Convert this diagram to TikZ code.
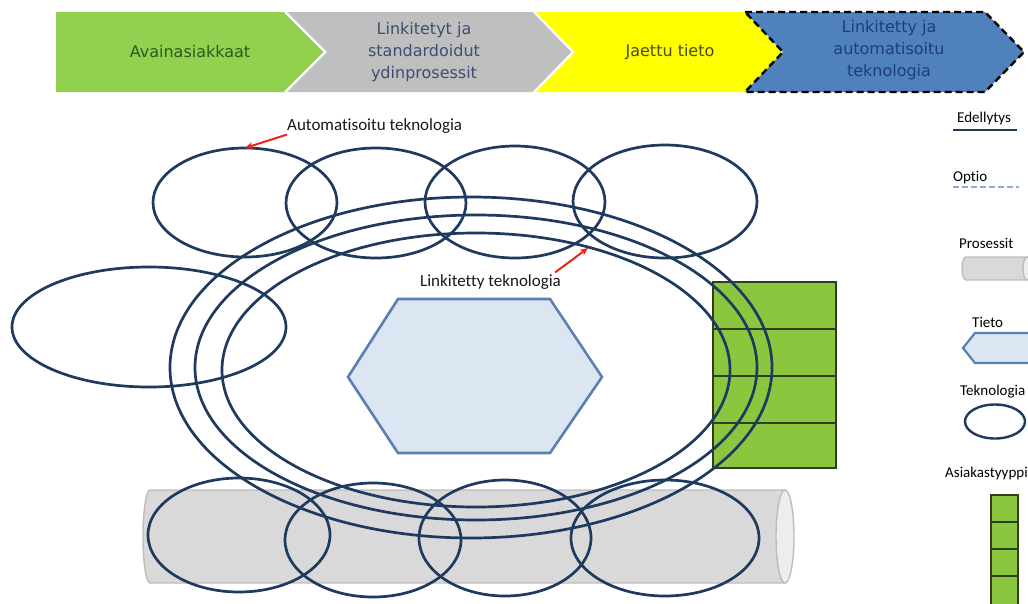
\documentclass[tikz,border=0pt]{standalone}
\usepackage{fontspec}
\setmainfont{Carlito}[Ligatures=NoCommon, RawFeature={-liga;-dlig}]
\newfontfamily\bannerfont{DejaVu Sans}
\usetikzlibrary{arrows.meta,shapes.geometric}

\definecolor{navy}{HTML}{1F3A5F}
\definecolor{chevgreen}{HTML}{92D050}
\definecolor{chevgray}{HTML}{BFBFBF}
\definecolor{chevyellow}{HTML}{FFFF00}
\definecolor{chevblue}{HTML}{4F81BD}
\definecolor{txtgreen}{HTML}{2C5A1E}
\definecolor{txtgray}{HTML}{3C4F73}
\definecolor{txtolive}{HTML}{4A4A20}
\definecolor{txtblue}{HTML}{1E3F78}
\definecolor{hexfill}{HTML}{DCE6F2}
\definecolor{hexline}{HTML}{5A7FB5}
\definecolor{custgreen}{HTML}{8CC63F}
\definecolor{gridline}{HTML}{2E3F1E}
\definecolor{cylfill}{HTML}{D9D9D9}
\definecolor{cylline}{HTML}{BDBDBD}
\definecolor{capfill}{HTML}{EDEDED}
\definecolor{optblue}{HTML}{8EAADB}
\definecolor{pointred}{HTML}{E8251F}

\tikzset{
  chevron/.style={draw=white, line width=2pt},
  bannertext/.style={font=\bannerfont\fontsize{16}{22}\selectfont, align=center, inner sep=0pt},
  ring/.style={ellipse, draw=navy, line width=2.7pt, inner sep=0pt},
  hexshape/.style={draw=hexline, fill=hexfill, line width=2.6pt, line join=miter},
  custgrid/.style={draw=gridline, line width=1.6pt, fill=custgreen},
  cylbody/.style={draw=cylline, fill=cylfill, line width=1.4pt},
  cylcap/.style={draw=cylline, fill=capfill, line width=1.4pt},
  lbl/.style={font=\fontsize{17}{20}\selectfont, inner sep=0pt, text=black!90},
  legendlbl/.style={font=\fontsize{15}{18}\selectfont, inner sep=0pt, anchor=west, text=black},
  redarrow/.style={draw=pointred, line width=2pt, -{Stealth[length=8pt,width=7pt]}}
}

\begin{document}
\begin{tikzpicture}[x=1pt,y=-1pt]
\useasboundingbox (0,0) rectangle (1028,603);
\clip (0,0) rectangle (1028,603);
\fill[white] (0,0) rectangle (1028,603);

% ---- process chevrons ----
\fill[chevgreen] (56,12) -- (285,12) -- (325,52) -- (285,92) -- (56,92) -- cycle;
\fill[chevgray] (287,12) -- (533,12) -- (572,52) -- (533,92) -- (287,92) -- (327,52) -- cycle;
\fill[chevyellow] (536,12) -- (745,12) -- (783,52) -- (745,92) -- (536,92) -- (575,52) -- cycle;
\draw[chevron] (285,12) -- (325,52) -- (285,92);
\draw[chevron] (534,12) -- (573,52) -- (534,92);
\fill[chevblue] (745,12) -- (985,12) -- (1024,52) -- (985,92) -- (745,92) -- (783,52) -- cycle;
\draw[black, line width=2.4pt, dash pattern=on 7pt off 4pt, line join=miter]
  (745,12) -- (985,12) -- (1024,52) -- (985,92) -- (745,92) -- (783,52) -- cycle;

\node[bannertext, text=txtgreen] (stage1) at (190,52) {Avainasiakkaat};
\node[bannertext, text=txtgray] (stage2) at (424,52) {Linkitetyt ja\\standardoidut\\ydinprosessit};
\node[bannertext, text=txtolive] (stage3) at (670,52) {Jaettu tieto};
\node[bannertext, text=txtblue] (stage4) at (889,50) {Linkitetty ja\\automatisoitu\\teknologia};

% ---- process cylinder ----
\path[cylbody] (785,490) -- (150,490)
  arc[start angle=90, end angle=270, x radius=7pt, y radius=46.5pt] -- (785,583) -- cycle;
\draw[cylcap] (785,536.5) ellipse [x radius=9pt, y radius=46.5pt];

% ---- customer type grid ----
\draw[custgrid] (713,282) rectangle (836,468);
\draw[gridline, line width=1.8pt] (713,329) -- (836,329) (713,376) -- (836,376) (713,423) -- (836,423);

% ---- shared data hexagon ----
\draw[hexshape] (348,377) -- (398,299) -- (550,299) -- (602,377) -- (550,453) -- (398,453) -- cycle;

% ---- linked technology rings ----
\node[ring, minimum width=602pt, minimum height=341pt] (outer) at (471,367.5) {};
\node[ring, minimum width=562pt, minimum height=305pt] (middle) at (476,367.5) {};
\node[ring, minimum width=508pt, minimum height=274pt] (inner) at (476,370) {};

% ---- automated technology ellipses ----
\node[ring, minimum width=184pt, minimum height=109pt] (top1) at (245,202.5) {};
\node[ring, minimum width=180pt, minimum height=110pt] (top2) at (376,203) {};
\node[ring, minimum width=180pt, minimum height=112pt] (top3) at (515,202) {};
\node[ring, minimum width=184pt, minimum height=113pt] (top4) at (665,201.5) {};
\node[ring, minimum width=274pt, minimum height=120pt] (left1) at (149,327) {};
\node[ring, minimum width=182pt, minimum height=114pt] (bot1) at (239,535) {};
\node[ring, minimum width=176pt, minimum height=114pt] (bot2) at (373,540) {};
\node[ring, minimum width=172pt, minimum height=116pt] (bot3) at (505,538) {};
\node[ring, minimum width=188pt, minimum height=116pt] (bot4) at (665,538) {};

% ---- labels with pointers ----
\node[lbl, anchor=west] (autolbl) at (287,126) {Automatisoitu teknologia};
\coordinate (autotip) at (245,148);
\draw[redarrow] ([yshift=-1pt]autolbl.south west) -- (autotip);

\node[lbl, anchor=west] (linklbl) at (420,282) {Linkitetty teknologia};
\coordinate (linktip) at (588,248);
\draw[redarrow] ([xshift=-6pt,yshift=2pt]linklbl.north east) -- (linktip);

% ---- legend ----
\node[legendlbl] (legreq) at (957,118) {Edellytys};
\coordinate (reqa) at (953,130);
\coordinate (reqb) at (1017,130);
\draw[navy, line width=2.5pt] (reqa) -- (reqb);

\node[legendlbl] (legopt) at (953,178) {Optio};
\coordinate (opta) at (953,187);
\coordinate (optb) at (1019,187);
\draw[optblue, line width=2.5pt, dash pattern=on 6pt off 3pt] (opta) -- (optb);

\node[legendlbl] (legproc) at (959,243) {Prosessit};
\path[cylbody] (1026,257) -- (966,257)
  arc[start angle=90, end angle=270, x radius=4pt, y radius=11.5pt] -- (1026,280) -- cycle;
\draw[cylcap] (1027,268.5) ellipse [x radius=4pt, y radius=11.5pt];

\node[legendlbl] (legdata) at (972,322) {Tieto};
\draw[hexshape, line width=2.2pt] (963,348) -- (975,333) -- (1040,333) -- (1052,348) -- (1040,363) -- (975,363) -- cycle;

\node[legendlbl] (legtech) at (960,392) {Teknologia};
\node[ring, line width=2.4pt, minimum width=60pt, minimum height=34pt] (legring) at (995,421.5) {};

\node[legendlbl] (legcust) at (945,473) {Asiakastyyppi};
\draw[custgrid] (991,495) rectangle (1018,610);
\draw[gridline, line width=1.6pt] (991,522) -- (1018,522) (991,549) -- (1018,549) (991,576) -- (1018,576);
\end{tikzpicture}
\end{document}
